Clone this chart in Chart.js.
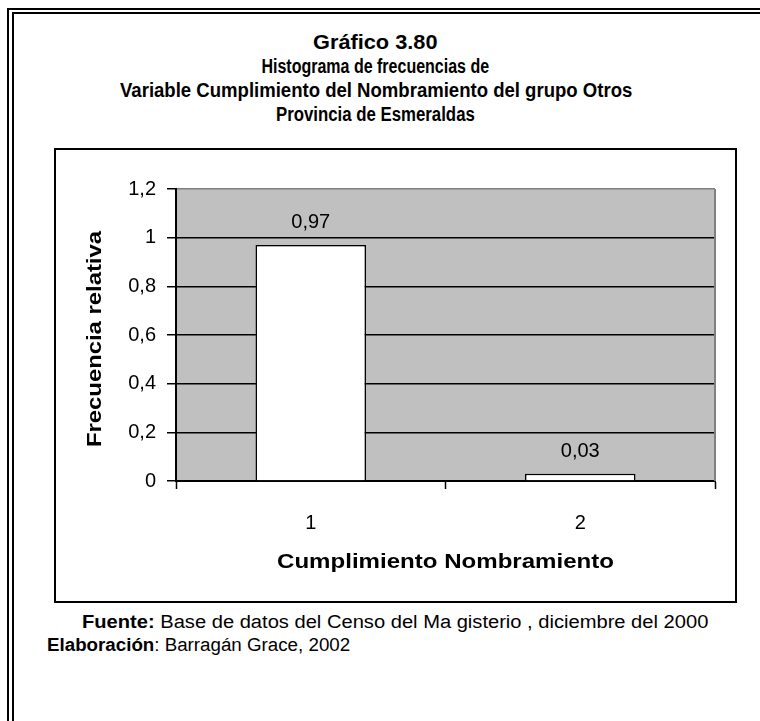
<!DOCTYPE html>
<html>
<head>
<meta charset="utf-8">
<script src="https://cdn.jsdelivr.net/npm/chart.js@4.4.0/dist/chart.umd.min.js"></script>
<style>
    html, body { margin: 0; padding: 0; background: #fff; }
    #page { position: relative; width: 760px; height: 721px; overflow: hidden;
            font-family: "Liberation Sans", Arial, sans-serif; color: #000; }
    .frame { position: absolute; border-left: 2px solid #000; border-top: 2px solid #000;
             width: 2000px; height: 2000px; }
    #f1 { left: 7px; top: 8px; }
    #f2 { left: 12px; top: 12px; }
    #box { position: absolute; left: 54px; top: 148px; width: 679px; height: 451px;
           border: 2px solid #000; }
    .line { position: absolute; white-space: nowrap; line-height: 1; }
    .title { font-weight: bold; font-size: 20px; }
    .foot { font-size: 18px; }
    #chart { position: absolute; left: 0; top: 0; }
</style>
</head>
<body>
<div id="page">
    <div class="frame" id="f1"></div>
    <div class="frame" id="f2"></div>
    <div id="box"></div>

    <div class="line title" data-cx="375" data-cy="42" data-w="125">Gráfico 3.80</div>
    <div class="line title" data-cx="375" data-cy="66" data-w="228">Histograma de frecuencias de</div>
    <div class="line title" data-cx="376" data-cy="90" data-w="512">Variable Cumplimiento del Nombramiento del grupo Otros</div>
    <div class="line title" data-cx="375" data-cy="114" data-w="199">Provincia de Esmeraldas</div>

    <div class="line foot" data-x="82" data-cy="622" data-w="626"><b>Fuente:</b> Base de datos del Censo del Ma gisterio , diciembre del 2000</div>
    <div class="line foot" data-x="47" data-cy="645" data-w="303"><b>Elaboración</b>: Barragán Grace, 2002</div>

    <canvas id="chart" width="760" height="721"></canvas>
</div>

<script>
// Datos del gráfico
const categories = ['1', '2'];
const relFreq = [0.97, 0.03];
const yTicks = [0, 0.2, 0.4, 0.6, 0.8, 1, 1.2];

const xTitle = 'Cumplimiento Nombramiento';
const yTitle = 'Frecuencia relativa';

const FONT = '"Liberation Sans", Arial, sans-serif';

/**
 * Place the text lines (condensed like the original)
 */
function placeLines() {
    document.querySelectorAll('.line').forEach(el => {
        const w = el.offsetWidth;
        const h = el.offsetHeight;
        const k = parseFloat(el.dataset.w) / w;
        const cy = parseFloat(el.dataset.cy);
        el.style.top = (cy - h / 2) + 'px';
        if (el.dataset.cx) {
            el.style.left = (parseFloat(el.dataset.cx) - w / 2) + 'px';
            el.style.transformOrigin = 'center center';
        } else {
            el.style.left = el.dataset.x + 'px';
            el.style.transformOrigin = 'left center';
        }
        el.style.transform = 'scaleX(' + k + ')';
    });
}

// condensed text on canvas
function drawSquashed(ctx, text, x, y, targetW) {
    const w = ctx.measureText(text).width;
    ctx.save();
    ctx.translate(x, y);
    ctx.scale(targetW / w, 1);
    ctx.fillText(text, 0, 0);
    ctx.restore();
}

const plotDecor = {
    id: 'plotDecor',
    beforeDraw(chart) {
        const { ctx, chartArea: a } = chart;
        ctx.save();
        ctx.fillStyle = '#c0c0c0';
        ctx.fillRect(a.left, a.top, a.right - a.left, a.bottom - a.top);
        ctx.restore();
    },
    afterDraw(chart) {
        const { ctx, chartArea: a } = chart;
        ctx.save();
        // right border of the plot area
        ctx.strokeStyle = '#808080';
        ctx.lineWidth = 2;
        ctx.beginPath();
        ctx.moveTo(a.right, a.top);
        ctx.lineTo(a.right, a.bottom);
        ctx.stroke();

        // value labels
        ctx.fillStyle = '#000';
        ctx.font = '20px ' + FONT;
        ctx.textAlign = 'center';
        ctx.textBaseline = 'middle';
        const meta = chart.getDatasetMeta(0);
        meta.data.forEach((bar, i) => {
            ctx.fillText(relFreq[i].toFixed(2).replace('.', ','), bar.x, bar.y - 22);
        });

        // axis titles
        ctx.font = 'bold 20px ' + FONT;
        drawSquashed(ctx, xTitle, (a.left + a.right) / 2, 562, 337);
        ctx.save();
        ctx.translate(95, (a.top + a.bottom) / 2 + 4);
        ctx.rotate(-Math.PI / 2);
        drawSquashed(ctx, yTitle, 0, 0, 216);
        ctx.restore();
        ctx.restore();
    }
};

function initChart() {
    const ctx = document.getElementById('chart');

    new Chart(ctx, {
        type: 'bar',
        data: {
            labels: categories,
            datasets: [{
                data: relFreq,
                backgroundColor: '#ffffff',
                borderColor: '#000000',
                borderWidth: 1.5,
                categoryPercentage: 1,
                barPercentage: 0.41
            }]
        },
        options: {
            responsive: false,
            animation: false,
            devicePixelRatio: 1,
            layout: { padding: { left: 0, right: 45, top: 189, bottom: 190 } },
            plugins: {
                legend: { display: false },
                tooltip: { enabled: false }
            },
            scales: {
                x: {
                    afterFit: scale => { scale.height = 50; },
                    grid: {
                        offset: true,
                        drawOnChartArea: false,
                        tickLength: 8,
                        tickColor: '#000',
                        tickWidth: 1.5
                    },
                    border: { color: '#000', width: 2 },
                    ticks: {
                        color: '#000',
                        padding: 22,
                        font: { size: 20, family: FONT }
                    }
                },
                y: {
                    min: 0,
                    max: 1.2,
                    afterFit: scale => { scale.width = 176; },
                    afterBuildTicks: scale => {
                        scale.ticks = yTicks.map(v => ({ value: v }));
                    },
                    grid: {
                        color: c => (c.tick && c.tick.value === 1.2) ? '#808080' : '#000',
                        lineWidth: 1.5,
                        tickLength: 9,
                        tickColor: '#000',
                        tickWidth: 1.5
                    },
                    border: { color: '#000', width: 2 },
                    ticks: {
                        color: '#000',
                        padding: 11,
                        font: { size: 20, family: FONT },
                        callback: v => String(Math.round(v * 10) / 10).replace('.', ',')
                    }
                }
            }
        },
        plugins: [plotDecor]
    });
}

document.addEventListener('DOMContentLoaded', function() {
    placeLines();
    initChart();
});
</script>
</body>
</html>
